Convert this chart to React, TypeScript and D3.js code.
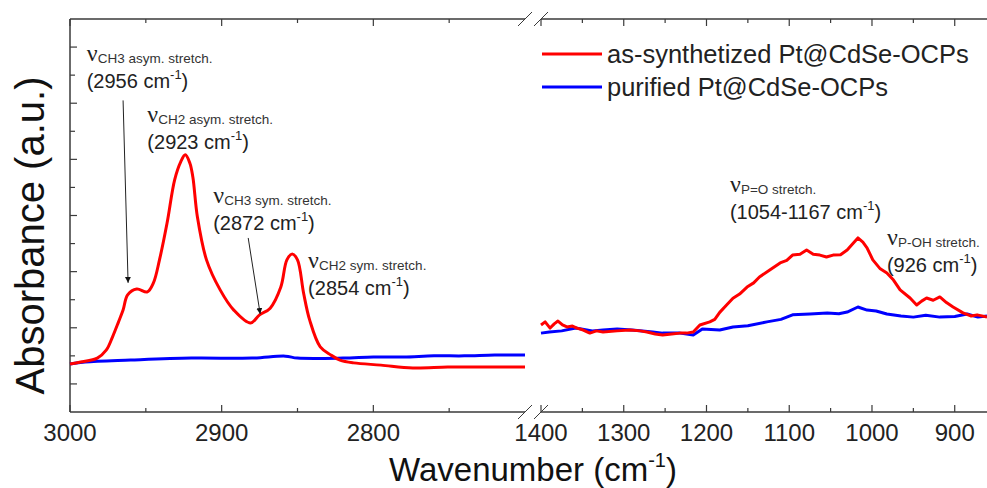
import React from "react";
import * as d3 from "d3";

// wavenumber (cm-1) / absorbance (a.u.)
const redHigh: [number, number][] = [
  [3000, 1.71], [2993, 1.78], [2982, 1.92], [2976, 2.21], [2972, 2.67], [2968, 3.21],
  [2965, 3.63], [2962, 4.17], [2956, 4.38], [2949, 4.28], [2945, 4.6], [2941, 5.42],
  [2936, 6.73], [2931, 8.27], [2927, 8.91], [2924, 9.16], [2921, 8.87], [2919, 8.37],
  [2916, 6.95], [2910, 5.42], [2901, 4.35], [2892, 3.63], [2881, 3.17], [2875, 3.46],
  [2868, 3.7], [2861, 4.45], [2857, 5.42], [2853.5, 5.63], [2850, 5.42], [2846, 4.24],
  [2842, 3.28], [2835, 2.32], [2828, 2.03], [2822, 1.85], [2813, 1.75], [2795, 1.67],
  [2774, 1.57], [2751, 1.6], [2729, 1.6], [2700, 1.6],
];
const blueHigh: [number, number][] = [
  [3000, 1.71], [2990, 1.78], [2960, 1.85], [2920, 1.92], [2880, 1.92], [2858, 1.99],
  [2850, 1.92], [2820, 1.92], [2800, 1.96], [2780, 1.96], [2760, 2.0], [2740, 2.0],
  [2720, 2.03], [2700, 2.03],
];
const redLow: [number, number][] = [
  [1400, 3.1], [1395, 3.21], [1389, 2.99], [1384, 3.14], [1379.5, 3.24], [1374, 3.1],
  [1368.6, 3.03], [1362, 3.06], [1356.5, 2.99], [1349, 2.92], [1341, 2.81], [1333, 2.89],
  [1325, 2.85], [1308, 2.89], [1292.5, 2.92], [1280, 2.89], [1272, 2.85], [1262, 2.78],
  [1253, 2.74], [1242, 2.78], [1232, 2.81], [1224, 2.81], [1216, 2.85], [1208, 3.1],
  [1196, 3.21], [1190, 3.3], [1184, 3.55], [1176, 3.8], [1168, 4.05], [1160, 4.2],
  [1151, 4.45], [1143, 4.6], [1136, 4.81], [1124, 5.05], [1111, 5.31], [1103, 5.4],
  [1096, 5.59], [1087, 5.62], [1079, 5.77], [1071, 5.62], [1063, 5.59], [1055, 5.52],
  [1047, 5.59], [1038, 5.6], [1030, 5.77], [1023, 6.0], [1017, 6.2], [1011, 6.05],
  [1006, 5.85], [999, 5.42], [990, 5.1], [982, 4.95], [974, 4.7], [966, 4.35],
  [954, 4.06], [946, 3.81], [940, 3.95], [934, 4.06], [926, 3.98], [918, 4.1],
  [910, 3.9], [902, 3.74], [890, 3.53], [880, 3.42], [873, 3.46], [861, 3.38],
];
const blueLow: [number, number][] = [
  [1400, 2.81], [1390, 2.85], [1375, 2.89], [1358, 2.99], [1338, 2.89], [1325, 2.92],
  [1308, 2.96], [1290, 2.92], [1265, 2.85], [1253, 2.81], [1232, 2.81], [1216, 2.74],
  [1205, 2.96], [1184, 2.92], [1168, 3.03], [1150, 3.07], [1127, 3.21], [1110, 3.3],
  [1096, 3.46], [1075, 3.49], [1054, 3.53], [1040, 3.5], [1030, 3.56], [1017, 3.74],
  [1006, 3.63], [995, 3.6], [982, 3.49], [965, 3.42], [950, 3.38], [935, 3.45],
  [918, 3.38], [900, 3.4], [885, 3.49], [872, 3.38], [861, 3.42],
];

const highTicks = [3000, 2900, 2800];
const highMinor = [2950, 2850, 2750];
const lowTicks = [1400, 1300, 1200, 1100, 1000, 900];
const lowMinor = [1350, 1250, 1150, 1050, 950];
const yMajor = [1, 3, 5, 7, 9, 11, 13];
const yMinor = [2, 4, 6, 8, 10, 12];

const seriesNames = ["as-synthetized Pt@CdSe-OCPs", "purified Pt@CdSe-OCPs"];
const colors = ["#ff0000", "#0000ff"];

// peak labels: panel, wavenumber & absorbance of the nu glyph anchor
const peaks = [
  { panel: "high", wn: 2989, v: 12.5, sub: "CH3 asym. stretch.", pos: "(2956 cm", tail: ")" },
  { panel: "high", wn: 2949, v: 10.33, sub: "CH2 asym. stretch.", pos: "(2923 cm", tail: ")" },
  { panel: "high", wn: 2905.6, v: 7.45, sub: "CH3 sym. stretch.", pos: "(2872 cm", tail: ")" },
  { panel: "high", wn: 2843, v: 5.13, sub: "CH2 sym. stretch.", pos: "(2854 cm", tail: ")" },
  { panel: "low", wn: 1171.7, v: 7.84, sub: "P=O stretch.", pos: "(1054-1167 cm", tail: ")" },
  { panel: "low", wn: 982, v: 5.95, sub: "P-OH stretch.", pos: "(926 cm", tail: ")" },
];
const arrows = [
  { from: [2965, 11.1], to: [2961.7, 4.6] },
  { from: [2882.5, 6.2], to: [2874.6, 3.49] },
];

const W = 987;
const H = 488;
const top = 19;
const bottom = 412;
const font = "'Liberation Sans', Arial, sans-serif";
const axisColor = "#3a3a3a";

export default function App() {
  const xH = d3.scaleLinear().domain([3000, 2700]).range([70, 525]);
  const xL = d3.scaleLinear().domain([1400, 861]).range([541, 987]);
  const y = d3.scaleLinear().domain([0, 14]).range([bottom, top]);

  const lineH = d3.line<[number, number]>().x(d => xH(d[0])).y(d => y(d[1])).curve(d3.curveCatmullRom.alpha(0.5));
  const lineL = d3.line<[number, number]>().x(d => xL(d[0])).y(d => y(d[1])).curve(d3.curveLinear);

  const breakMark = (x: number, yy: number, key: string) => (
    <line key={key} x1={x - 7} y1={yy + 7} x2={x + 7} y2={yy - 7} stroke={axisColor} strokeWidth={1} />
  );

  const xTicks = (scale: d3.ScaleLinear<number, number>, major: number[], minor: number[], k: string) => (
    <g key={k}>
      {major.map(t => (
        <g key={t}>
          <line x1={scale(t)} x2={scale(t)} y1={bottom} y2={bottom - 7} stroke={axisColor} strokeWidth={1.2} />
          <line x1={scale(t)} x2={scale(t)} y1={top} y2={top + 7} stroke={axisColor} strokeWidth={1.2} />
          <text x={scale(t)} y={441} textAnchor="middle" fontSize={24} fontFamily={font} fill="#222">{t}</text>
        </g>
      ))}
      {minor.map(t => (
        <g key={"m" + t}>
          <line x1={scale(t)} x2={scale(t)} y1={bottom} y2={bottom - 4} stroke={axisColor} strokeWidth={1.2} />
          <line x1={scale(t)} x2={scale(t)} y1={top} y2={top + 4} stroke={axisColor} strokeWidth={1.2} />
        </g>
      ))}
    </g>
  );

  return (
    <svg width={W} height={H} style={{ position: "absolute", left: 0, top: 0, background: "#fff" }}>
      <defs>
        <marker id="arr" viewBox="0 0 10 10" refX="10" refY="5" markerWidth="6" markerHeight="8" orient="auto" markerUnits="userSpaceOnUse">
          <path d="M0,0 L10,5 L0,10 z" fill="#111" />
        </marker>
      </defs>

      {/* axes frame */}
      <line x1={70} x2={70} y1={top} y2={bottom} stroke={axisColor} strokeWidth={1.5} />
      <line x1={70} x2={525} y1={bottom} y2={bottom} stroke={axisColor} strokeWidth={1.5} />
      <line x1={541} x2={W} y1={bottom} y2={bottom} stroke={axisColor} strokeWidth={1.5} />
      <line x1={70} x2={525} y1={top} y2={top} stroke={axisColor} strokeWidth={1.5} />
      <line x1={541} x2={W} y1={top} y2={top} stroke={axisColor} strokeWidth={1.5} />
      {[525, 541].flatMap(x => [breakMark(x, top, "t" + x), breakMark(x, bottom, "b" + x)])}

      {yMajor.map(t => (
        <line key={"y" + t} x1={70} x2={77} y1={y(t)} y2={y(t)} stroke={axisColor} strokeWidth={1.2} />
      ))}
      {yMinor.map(t => (
        <line key={"ym" + t} x1={70} x2={75} y1={y(t)} y2={y(t)} stroke={axisColor} strokeWidth={1.2} />
      ))}

      {xTicks(xH, highTicks, highMinor, "h")}
      {xTicks(xL, lowTicks, lowMinor, "l")}

      {/* spectra */}
      <path d={lineH(blueHigh) || ""} fill="none" stroke={colors[1]} strokeWidth={3} />
      <path d={lineH(redHigh) || ""} fill="none" stroke={colors[0]} strokeWidth={3} />
      <path d={lineL(blueLow) || ""} fill="none" stroke={colors[1]} strokeWidth={3} strokeLinejoin="round" />
      <path d={lineL(redLow) || ""} fill="none" stroke={colors[0]} strokeWidth={3} strokeLinejoin="round" />

      {/* arrows */}
      {arrows.map((a, i) => (
        <line key={"a" + i} x1={xH(a.from[0])} y1={y(a.from[1])} x2={xH(a.to[0])} y2={y(a.to[1])}
          stroke="#222" strokeWidth={1} markerEnd="url(#arr)" />
      ))}

      {/* peak labels */}
      {peaks.map((p, i) => {
        const px = p.panel === "high" ? xH(p.wn) : xL(p.wn);
        const py = y(p.v);
        return (
          <g key={"p" + i}>
            <text x={px} y={py} fontFamily="'Liberation Serif', serif" fontSize={24} fill="#222">ν</text>
            <text x={px + 11} y={py + 2} fontFamily={font} fontSize={13.5} fill="#333">{p.sub}</text>
            <text x={px} y={py + 27} fontFamily={font} fontSize={20} fill="#222">
              {p.pos}
              <tspan fontSize={13} dy={-9}>-1</tspan>
              <tspan dy={9}>{p.tail}</tspan>
            </text>
          </g>
        );
      })}

      {/* legend */}
      {seriesNames.map((n, i) => (
        <g key={n} transform={`translate(542, ${54 + i * 33})`}>
          <line x1={0} x2={60} y1={0} y2={0} stroke={colors[i]} strokeWidth={3} />
          <text x={65} y={9} fontFamily={font} fontSize={25.5} fill="#222">{n}</text>
        </g>
      ))}

      {/* axis titles */}
      <text transform={`translate(44, ${(top + bottom) / 2 + 20}) rotate(-90)`} textAnchor="middle"
        fontFamily={font} fontSize={40} fill="#111">Absorbance (a.u.)</text>
      <text x={533} y={481} textAnchor="middle" fontFamily={font} fontSize={33} fill="#111">
        Wavenumber (cm<tspan fontSize={20} dy={-14}>-1</tspan><tspan dy={14}>)</tspan>
      </text>
    </svg>
  );
}
